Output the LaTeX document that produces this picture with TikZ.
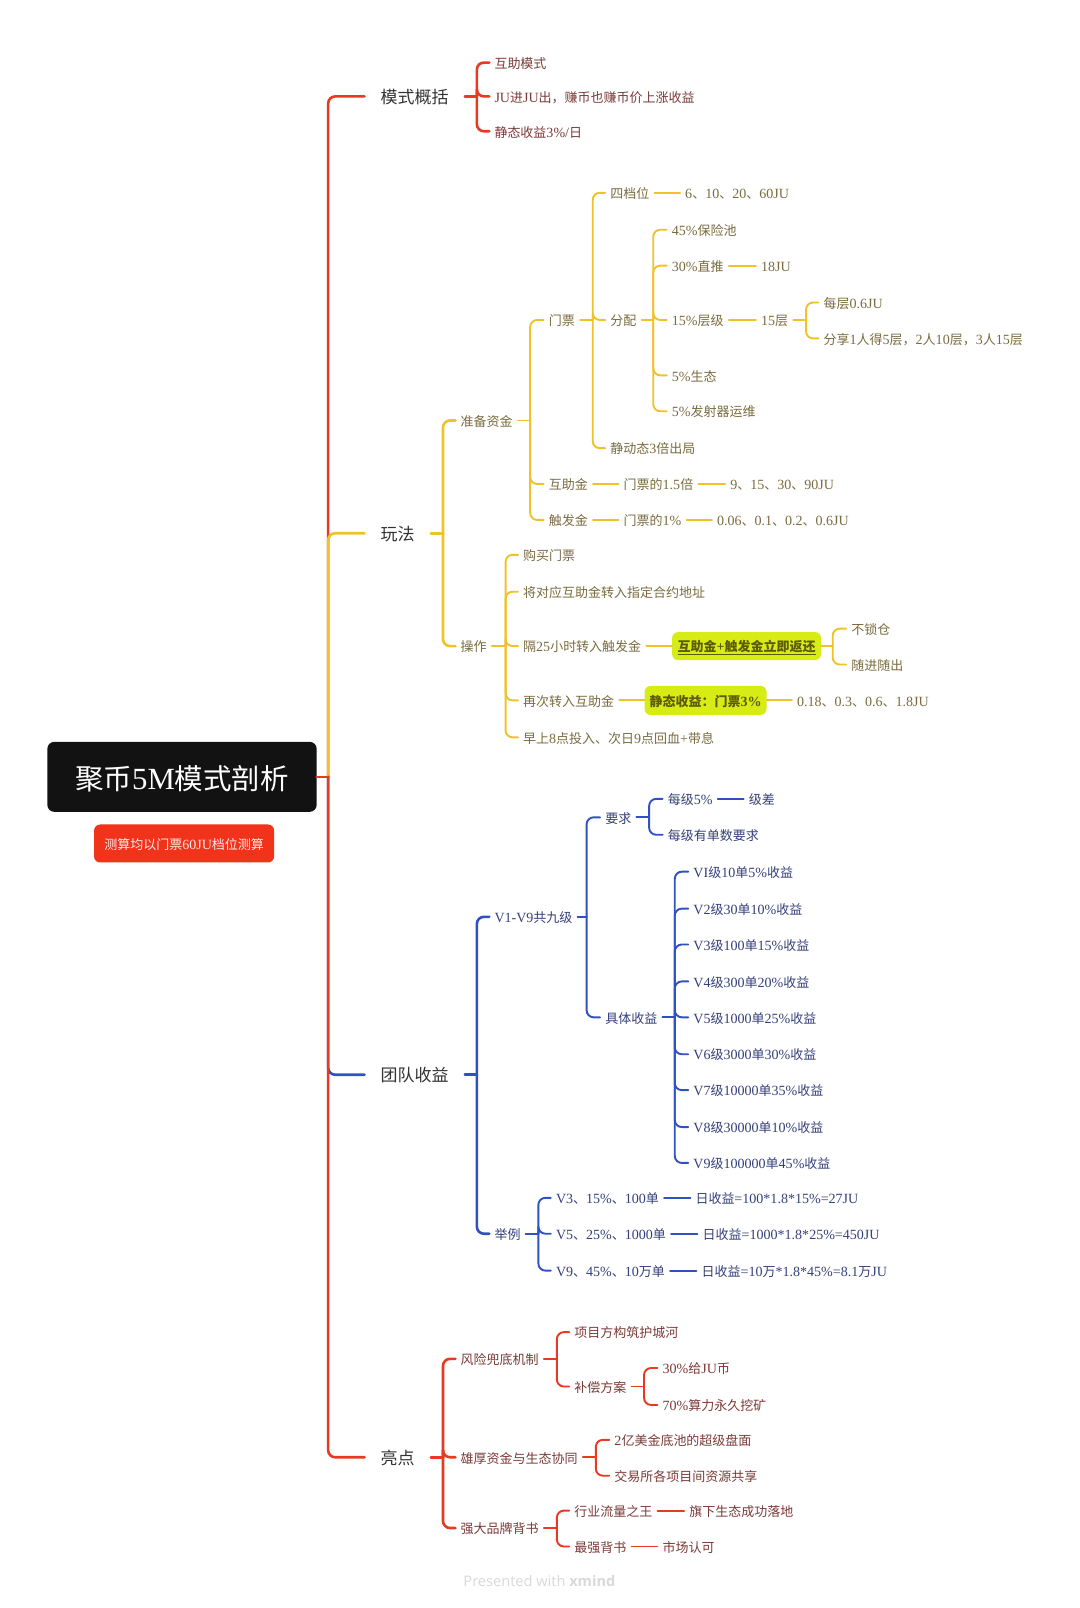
\documentclass[tikz,border=0pt]{standalone}
\usepackage{fontspec}
\setmainfont{Noto Sans CJK SC}
\newfontfamily\latf[Scale=1.08]{Liberation Serif}
\newfontfamily\footf{Open Sans}
\newcommand\latn[1]{{\latf #1}}
\newcommand\footsetup{\footf\fontsize{14.6}{17}\selectfont}
\definecolor{cred}{HTML}{E83A22}
\definecolor{cnote}{HTML}{F2331C}
\definecolor{cyel}{HTML}{F0C22A}
\definecolor{cblu}{HTML}{3050C4}
\definecolor{tred}{HTML}{7A3B38}
\definecolor{tyel}{HTML}{7A6B3F}
\definecolor{tblu}{HTML}{35407A}
\definecolor{lime}{HTML}{D6EC14}
\definecolor{thl}{HTML}{5C5A05}
\tikzset{
 txt/.style={anchor=west,inner xsep=5pt,inner ysep=0pt,xshift=-5pt,text height=12.5pt,text depth=1pt,font=\fontsize{13}{16}\selectfont},
 tr/.style={txt,text=tred},
 ty/.style={txt,text=tyel},
 tb/.style={txt,text=tblu},
 topic/.style={anchor=west,inner xsep=16pt,inner ysep=0pt,xshift=-16pt,text height=16pt,text depth=1.5pt,text=black!80,font=\fontsize{17}{20}\selectfont},
 hl/.style={fill=lime,rounded corners=6pt,inner sep=0pt,text=thl,text height=12.5pt,text depth=1pt,font=\bfseries\fontsize{13}{16}\selectfont},
 conn/.style={line width=#1,line cap=round},
 conn/.default=1.9pt,
}
\newcommand\N[5][ty]{\node[#1] (#2) at (#3,#4) {#5};}
% \br[colour, width]{parent}{trunk x}{children}
\newcommand\br[4][]{\path (#3,0) coordinate (tk);
 \draw[conn,#1] (#2.east) -- (#2.east -| tk);
 \foreach \cc in {#4} {\draw[conn,#1,rounded corners=7pt,line join=round] (#2.east -| tk) |- (\cc.west);}}
\newcommand\lk[3][]{\draw[conn,#1] (#2.east) -- (#3.west);}
\begin{document}
\begin{tikzpicture}[x=1.02564pt,y=-1.02564pt]
\useasboundingbox[fill=white] (0,0) rectangle (1053,1568);
% root
\node[fill=black!93,rounded corners=7pt,minimum width=269.4pt,minimum height=70pt,inner sep=0pt,text=white,text height=26pt,text depth=0pt,font=\fontsize{28.5}{32}\selectfont] (root) at (177.5,757.5) {聚币\latn{5M}模式剖析};
\node[fill=cnote,rounded corners=6pt,minimum width=180pt,minimum height=38pt,inner sep=0pt,text=white!90!cnote,text height=12.5pt,text depth=1pt,font=\fontsize{13}{16}\selectfont] (note) at (179.5,822.5) {测算均以门票\latn{60JU}档位测算};
% topics
\node[topic] (t1) at (371,94) {模式概括};
\node[topic] (t2) at (371,520) {玩法};
\node[topic] (t3) at (371,1048) {团队收益};
\node[topic] (t4) at (371,1421) {亮点};
% branch 1
\N[tr]{a1}{482}{61}{互助模式}
\N[tr]{a2}{482}{94}{\latn{JU}进\latn{JU}出，赚币也赚币价上涨收益}
\N[tr]{a3}{482}{128}{静态收益\latn{3\%/}日}
% branch 2
\N{b1}{449}{410}{准备资金}
\N{b2}{449}{630}{操作}
\N{c1}{535}{312}{门票}
\N{c2}{535}{472}{互助金}
\N{c3}{535}{507}{触发金}
\N{d1}{595}{188}{四档位}
\N{d2}{595}{312}{分配}
\N{d3}{595}{437}{静动态\latn{3}倍出局}
\N{d1a}{668}{188}{\latn{6}、\latn{10}、\latn{20}、\latn{60JU}}
\N{e1}{655}{224}{\latn{45\%}保险池}
\N{e2}{655}{259}{\latn{30\%}直推}
\N{e3}{655}{312}{\latn{15\%}层级}
\N{e4}{655}{366}{\latn{5\%}生态}
\N{e5}{655}{401}{\latn{5\%}发射器运维}
\N{e2a}{742}{259}{\latn{18JU}}
\N{e3a}{742}{312}{\latn{15}层}
\N{f1}{803}{295}{每层\latn{0.6JU}}
\N{f2}{803}{330}{分享\latn{1}人得\latn{5}层，\latn{2}人\latn{10}层，\latn{3}人\latn{15}层}
\N{c2a}{608}{472}{门票的\latn{1.5}倍}
\N{c2b}{712}{472}{\latn{9}、\latn{15}、\latn{30}、\latn{90JU}}
\N{c3a}{608}{507}{门票的\latn{1\%}}
\N{c3b}{699}{507}{\latn{0.06}、\latn{0.1}、\latn{0.2}、\latn{0.6JU}}
\N{g1}{510}{541}{购买门票}
\N{g2}{510}{577}{将对应互助金转入指定合约地址}
\N{g3}{510}{630}{隔\latn{25}小时转入触发金}
\N{g4}{510}{683}{再次转入互助金}
\N{g5}{510}{719}{早上\latn{8}点投入、次日\latn{9}点回血\latn{+}带息}
\node[hl,minimum width=149pt,minimum height=28pt] (h1) at (728,630) {\underline{互助金\latn{+}触发金立即返还}};
\node[hl,minimum width=122pt,minimum height=29pt] (h2) at (688,683) {静态收益：门票\latn{3\%}};
\N{h1a}{830}{613}{不锁仓}
\N{h1b}{830}{648}{随进随出}
\N{h2a}{777}{683}{\latn{0.18}、\latn{0.3}、\latn{0.6}、\latn{1.8JU}}
% branch 3
\N[tb]{k1}{482}{894}{\latn{V1-V9}共九级}
\N[tb]{k2}{482}{1203}{举例}
\N[tb]{m1}{590}{797}{要求}
\N[tb]{m2}{590}{992}{具体收益}
\N[tb]{n1}{651}{779}{每级\latn{5\%}}
\N[tb]{n2}{651}{814}{每级有单数要求}
\N[tb]{n1a}{730}{779}{级差}
\N[tb]{v1}{676}{850}{\latn{VI}级\latn{10}单\latn{5\%}收益}
\N[tb]{v2}{676}{886}{\latn{V2}级\latn{30}单\latn{10\%}收益}
\N[tb]{v3}{676}{921}{\latn{V3}级\latn{100}单\latn{15\%}收益}
\N[tb]{v4}{676}{957}{\latn{V4}级\latn{300}单\latn{20\%}收益}
\N[tb]{v5}{676}{992}{\latn{V5}级\latn{1000}单\latn{25\%}收益}
\N[tb]{v6}{676}{1028}{\latn{V6}级\latn{3000}单\latn{30\%}收益}
\N[tb]{v7}{676}{1063}{\latn{V7}级\latn{10000}单\latn{35\%}收益}
\N[tb]{v8}{676}{1099}{\latn{V8}级\latn{30000}单\latn{10\%}收益}
\N[tb]{v9}{676}{1134}{\latn{V9}级\latn{100000}单\latn{45\%}收益}
\N[tb]{x1}{542}{1168}{\latn{V3}、\latn{15\%}、\latn{100}单}
\N[tb]{x2}{542}{1203}{\latn{V5}、\latn{25\%}、\latn{1000}单}
\N[tb]{x3}{542}{1239}{\latn{V9}、\latn{45\%}、\latn{10}万单}
\N[tb]{y1}{678}{1168}{日收益\latn{=100*1.8*15\%=27JU}}
\N[tb]{y2}{685}{1203}{日收益\latn{=1000*1.8*25\%=450JU}}
\N[tb]{y3}{684}{1239}{日收益\latn{=10}万\latn{*1.8*45\%=8.1}万\latn{JU}}
% branch 4
\N[tr]{p1}{449}{1325}{风险兜底机制}
\N[tr]{p2}{449}{1421}{雄厚资金与生态协同}
\N[tr]{p3}{449}{1490}{强大品牌背书}
\N[tr]{q1}{560}{1299}{项目方构筑护城河}
\N[tr]{q2}{560}{1352}{补偿方案}
\N[tr]{r1}{646}{1334}{\latn{30\%}给\latn{JU}币}
\N[tr]{r2}{646}{1370}{\latn{70\%}算力永久挖矿}
\N[tr]{s1}{599}{1404}{\latn{2}亿美金底池的超级盘面}
\N[tr]{s2}{599}{1439}{交易所各项目间资源共享}
\N[tr]{u1}{560}{1473}{行业流量之王}
\N[tr]{u2}{560}{1508}{最强背书}
\N[tr]{u1a}{672}{1473}{旗下生态成功落地}
\N[tr]{u2a}{646}{1508}{市场认可}
% footer
\node[inner sep=0pt,text=black!15,font=\footsetup] (foot) at (526,1542) {Presented with \textbf{xmind}};
% connectors: root
\tikzset{cr/.style={draw=cred},cy/.style={draw=cyel},cb/.style={draw=cblu}}
\br[cr,conn=2.6pt]{root}{320}{t1}
\br[cy,conn=2.6pt]{root}{320}{t2}
\br[cb,conn=2.6pt]{root}{320}{t3}
\br[cr,conn=2.6pt]{root}{320}{t4}
% branch 1
\br[cr,conn=2.6pt]{t1}{465}{a1,a2,a3}
% branch 2
\br[cy,conn=2.6pt]{t2}{432}{b1,b2}
\br[cy]{b1}{517}{c1,c2,c3}
\br[cy]{c1}{578}{d1,d2,d3}
\lk[cy]{d1}{d1a}
\br[cy]{d2}{637}{e1,e2,e3,e4,e5}
\lk[cy]{e2}{e2a}
\lk[cy]{e3}{e3a}
\br[cy]{e3a}{786}{f1,f2}
\lk[cy]{c2}{c2a}
\lk[cy]{c2a}{c2b}
\lk[cy]{c3}{c3a}
\lk[cy]{c3a}{c3b}
\br[cy]{b2}{493}{g1,g2,g3,g4,g5}
\lk[cy]{g3}{h1}
\lk[cy]{g4}{h2}
\br[cy]{h1}{812}{h1a,h1b}
\lk[cy]{h2}{h2a}
% branch 3
\br[cb,conn=2.6pt]{t3}{465}{k1,k2}
\br[cb]{k1}{572}{m1,m2}
\br[cb]{m1}{633}{n1,n2}
\lk[cb]{n1}{n1a}
\br[cb]{m2}{658}{v1,v2,v3,v4,v5,v6,v7,v8,v9}
\br[cb]{k2}{525}{x1,x2,x3}
\lk[cb]{x1}{y1}
\lk[cb]{x2}{y2}
\lk[cb]{x3}{y3}
% branch 4
\br[cr,conn=2.6pt]{t4}{432}{p1,p2,p3}
\br[cr]{p1}{543}{q1,q2}
\br[cr]{q2}{628}{r1,r2}
\br[cr]{p2}{581}{s1,s2}
\br[cr]{p3}{543}{u1,u2}
\lk[cr]{u1}{u1a}
\lk[cr]{u2}{u2a}
\end{tikzpicture}
\end{document}
